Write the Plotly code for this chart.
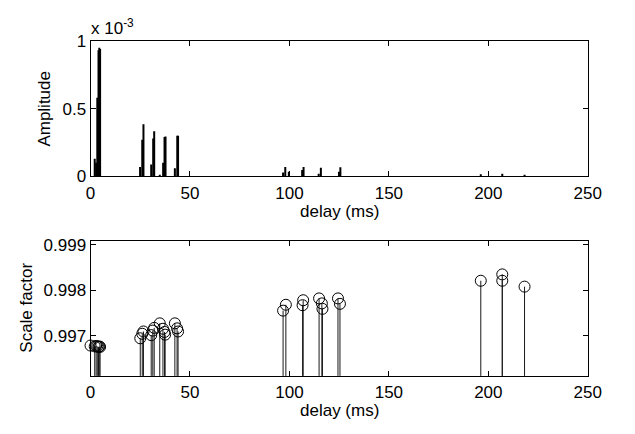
import plotly.graph_objects as go

# ---------------- data ----------------
delay_amp = [2.1, 2.8, 3.4, 4.0, 4.4, 4.8,
             24.9, 26.0, 26.6, 30.5, 31.5, 32.0, 34.8,
             36.5, 37.2, 37.7, 42.4, 43.6, 44.0,
             96.8, 97.9, 99.7, 106.4, 107.1, 114.7, 115.8,
             124.9, 125.6, 196.2, 207.0, 218.2]
amp_e3 = [0.13, 0.10, 0.58, 0.93, 0.95, 0.94,
          0.07, 0.27, 0.385, 0.088, 0.28, 0.333, 0.012,
          0.10, 0.29, 0.295, 0.06, 0.30, 0.30,
          0.028, 0.07, 0.035, 0.047, 0.07, 0.019, 0.064,
          0.035, 0.068, 0.015, 0.02, 0.012]

delay_sf = [0.0, 2.1, 2.8, 3.4, 4.0, 4.4, 4.8,
            25.0, 26.0, 26.6, 30.5, 31.3, 32.0, 34.8,
            36.4, 37.2, 37.5, 42.4, 43.5, 44.0,
            96.8, 98.2, 106.6, 106.9, 114.9, 116.3, 116.6,
            124.4, 125.4, 196.2, 207.0, 207.0, 218.2]
scale_factor = [0.99678, 0.99676, 0.99677, 0.99676, 0.99675, 0.99676, 0.99675,
                0.99694, 0.99704, 0.99709, 0.99701, 0.99711, 0.99717, 0.99727,
                0.99715, 0.99708, 0.99702, 0.99727, 0.99716, 0.99709,
                0.99755, 0.99768, 0.99767, 0.99778, 0.99782, 0.99771, 0.99759,
                0.99782, 0.99770, 0.99821, 0.99835, 0.99821, 0.99808]

x_ticks = [0, 50, 100, 150, 200, 250]
amp_ticks = [0, 0.5, 1]
amp_ticktext = ["0", "0.5", "1"]
sf_ticks = [0.997, 0.998, 0.999]
sf_ticktext = ["0.997", "0.998", "0.999"]

X_RANGE = [0, 250]
AMP_RANGE = [0, 1]
SF_RANGE = [0.99611, 0.99908]

# page is 635x434; the default 8px body margin surrounds the figure
PAGE_MARGIN = 8
W, H = 635 - 2 * PAGE_MARGIN, 434 - 2 * PAGE_MARGIN
FONT = "Liberation Sans, Arial, Helvetica, sans-serif"
FS = 17


def fx(p):
    return (p - PAGE_MARGIN) / W


def fy(p):
    return 1 - (p - PAGE_MARGIN) / H


def stems(xv, yv, base):
    xs, ys = [], []
    for a, b in zip(xv, yv):
        xs += [a, a, None]
        ys += [base, b, None]
    return xs, ys


fig = go.Figure()

sx, sy = stems(delay_amp, amp_e3, 0)
fig.add_trace(go.Scatter(x=sx, y=sy, mode="lines",
                         line=dict(color="black", width=2),
                         xaxis="x", yaxis="y", hoverinfo="skip",
                         showlegend=False))

bx, by = stems(delay_sf, scale_factor, SF_RANGE[0])
fig.add_trace(go.Scatter(x=bx, y=by, mode="lines",
                         line=dict(color="#1a1a1a", width=1),
                         xaxis="x2", yaxis="y2", hoverinfo="skip",
                         showlegend=False))
fig.add_trace(go.Scatter(x=delay_sf, y=scale_factor, mode="markers",
                         marker=dict(symbol="circle-open", size=11,
                                     color="black",
                                     line=dict(color="black", width=1)),
                         xaxis="x2", yaxis="y2", showlegend=False,
                         cliponaxis=False))

axis_common = dict(showline=True, linecolor="black", linewidth=1,
                   mirror="ticks", ticks="inside", ticklen=5,
                   tickcolor="black", tickwidth=1, showgrid=False,
                   zeroline=False, tickfont=dict(family=FONT, size=FS,
                                                 color="black"))

xdom = [fx(88), fx(601)]
fig.update_layout(
    width=W, height=H, autosize=False,
    margin=dict(l=0, r=0, t=0, b=0),
    paper_bgcolor="white", plot_bgcolor="white",
    showlegend=False,
    xaxis=dict(domain=xdom, range=X_RANGE, tickvals=x_ticks,
               anchor="y", ticklabelstandoff=1, **axis_common),
    yaxis=dict(domain=[fy(175), fy(33)], range=AMP_RANGE,
               tickvals=amp_ticks, ticktext=amp_ticktext,
               anchor="x", ticklabelstandoff=0, **axis_common),
    xaxis2=dict(domain=xdom, range=X_RANGE, tickvals=x_ticks,
                anchor="y2", ticklabelstandoff=1, **axis_common),
    yaxis2=dict(domain=[fy(384), fy(243)], range=SF_RANGE,
                tickvals=sf_ticks, ticktext=sf_ticktext,
                anchor="x2", ticklabelstandoff=0, **axis_common),
)

ann_font = dict(family=FONT, size=FS, color="black")
annotations = [
    dict(text="delay (ms)", x=fx(344.5), y=fy(212), xref="paper",
         yref="paper", xanchor="center", yanchor="middle",
         showarrow=False, font=ann_font),
    dict(text="delay (ms)", x=fx(344.5), y=fy(420), xref="paper",
         yref="paper", xanchor="center", yanchor="middle",
         showarrow=False, font=ann_font),
    dict(text="Amplitude", x=fx(41), y=fy(104), xref="paper",
         yref="paper", xanchor="center", yanchor="middle",
         textangle=-90, showarrow=False, font=ann_font),
    dict(text="Scale factor", x=fx(22), y=fy(313), xref="paper",
         yref="paper", xanchor="center", yanchor="middle",
         textangle=-90, showarrow=False, font=ann_font),
    dict(text="x 10<sup>-3</sup>", x=fx(86), y=fy(19), xref="paper",
         yref="paper", xanchor="left", yanchor="middle",
         showarrow=False, font=ann_font),
]
fig.update_layout(annotations=annotations)

fig.write_html("out.html", config={"displayModeBar": False})
